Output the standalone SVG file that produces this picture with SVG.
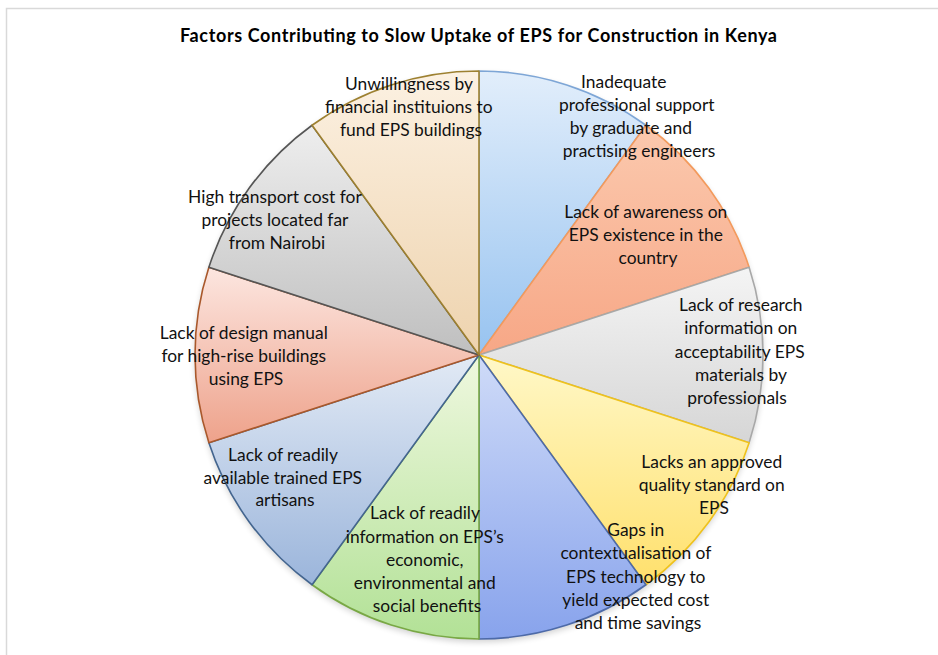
<svg xmlns="http://www.w3.org/2000/svg" width="938" height="655" viewBox="0 0 938 655">
  <style>
    .title { font-family: Lato, "Liberation Sans", sans-serif; font-weight: bold; font-size: 18px; fill: #000; }
    .lbl { font-family: Lato, "Liberation Sans", sans-serif; font-size: 17.4px; fill: #111; text-anchor: middle; }
    .slice { stroke-width: 1.6; stroke-linejoin: round; }
  </style>
  <defs>
    <linearGradient id="gBlue" x1="0" y1="0" x2="0" y2="1">
      <stop offset="0" stop-color="#e2eefb"/><stop offset="1" stop-color="#97c3f0"/>
    </linearGradient>
    <linearGradient id="gOrange" x1="0" y1="0" x2="0" y2="1">
      <stop offset="0" stop-color="#fbc9ae"/><stop offset="1" stop-color="#f7a786"/>
    </linearGradient>
    <linearGradient id="gGrey" x1="0" y1="0" x2="0" y2="1">
      <stop offset="0" stop-color="#f4f4f4"/><stop offset="1" stop-color="#d6d6d6"/>
    </linearGradient>
    <linearGradient id="gYellow" x1="0" y1="0" x2="0" y2="1">
      <stop offset="0" stop-color="#fff8c8"/><stop offset="1" stop-color="#ffe06c"/>
    </linearGradient>
    <linearGradient id="gPeri" x1="0" y1="0" x2="0" y2="1">
      <stop offset="0" stop-color="#cfdbf8"/><stop offset="1" stop-color="#88a3ec"/>
    </linearGradient>
    <linearGradient id="gGreen" x1="0" y1="0" x2="0" y2="1">
      <stop offset="0" stop-color="#eff8df"/><stop offset="1" stop-color="#b2e196"/>
    </linearGradient>
    <linearGradient id="gSteel" x1="0" y1="0" x2="0" y2="1">
      <stop offset="0" stop-color="#e2eaf5"/><stop offset="1" stop-color="#9bb5db"/>
    </linearGradient>
    <linearGradient id="gPink" x1="0" y1="0" x2="0" y2="1">
      <stop offset="0" stop-color="#fce6e0"/><stop offset="1" stop-color="#eea28b"/>
    </linearGradient>
    <linearGradient id="gDark" x1="0" y1="0" x2="0" y2="1">
      <stop offset="0" stop-color="#eeeeee"/><stop offset="1" stop-color="#bfbfbf"/>
    </linearGradient>
    <linearGradient id="gBeige" x1="0" y1="0" x2="0" y2="1">
      <stop offset="0" stop-color="#fcf1e2"/><stop offset="1" stop-color="#eed3ae"/>
    </linearGradient>
    <filter id="shadow" x="-10%" y="-10%" width="120%" height="120%">
      <feGaussianBlur stdDeviation="3"/>
    </filter>
  </defs>

  <!-- chart frame -->
  <rect x="0" y="0" width="938" height="655" fill="#fff"/>
  <path d="M6.5,655 V8.5 H938" fill="none" stroke="#d9d9d9" stroke-width="1.5"/>

  <text class="title" x="180" y="42" textLength="597" lengthAdjust="spacing">Factors Contributing to Slow Uptake of EPS for Construction in Kenya</text>

  <!-- soft shadow under the pie -->
  <circle cx="479" cy="358" r="284" fill="#000" opacity="0.18" filter="url(#shadow)"/>

  <!-- pie slices: centre (479,355), radius 284, ten equal 36° wedges clockwise from the top -->
  <g id="slice-inadequate-support">
    <path class="slice" d="M479,355 L479,71 A284,284 0 0 1 645.93,125.24 Z" fill="url(#gBlue)" stroke="#7ea6d6"/>
  </g>
  <g id="slice-awareness">
    <path class="slice" d="M479,355 L645.93,125.24 A284,284 0 0 1 749.11,267.24 Z" fill="url(#gOrange)" stroke="#f39a5c"/>
  </g>
  <g id="slice-research">
    <path class="slice" d="M479,355 L749.11,267.24 A284,284 0 0 1 749.11,442.76 Z" fill="url(#gGrey)" stroke="#a8a8a8"/>
  </g>
  <g id="slice-quality-standard">
    <path class="slice" d="M479,355 L749.11,442.76 A284,284 0 0 1 645.93,584.76 Z" fill="url(#gYellow)" stroke="#efc21c"/>
  </g>
  <g id="slice-contextualisation">
    <path class="slice" d="M479,355 L645.93,584.76 A284,284 0 0 1 479,639 Z" fill="url(#gPeri)" stroke="#4d6aa8"/>
  </g>
  <g id="slice-benefits-info">
    <path class="slice" d="M479,355 L479,639 A284,284 0 0 1 312.07,584.76 Z" fill="url(#gGreen)" stroke="#79a845"/>
  </g>
  <g id="slice-artisans">
    <path class="slice" d="M479,355 L312.07,584.76 A284,284 0 0 1 208.89,442.76 Z" fill="url(#gSteel)" stroke="#43658f"/>
  </g>
  <g id="slice-design-manual">
    <path class="slice" d="M479,355 L208.89,442.76 A284,284 0 0 1 208.89,267.24 Z" fill="url(#gPink)" stroke="#a9582b"/>
  </g>
  <g id="slice-transport">
    <path class="slice" d="M479,355 L208.89,267.24 A284,284 0 0 1 312.07,125.24 Z" fill="url(#gDark)" stroke="#555555"/>
  </g>
  <g id="slice-financing">
    <path class="slice" d="M479,355 L312.07,125.24 A284,284 0 0 1 479,71 Z" fill="url(#gBeige)" stroke="#9d8030"/>
  </g>

  <!-- data labels -->
  <g id="labels">
    <text class="lbl" x="638" y="88">
      <tspan x="626" y="88">Inadequate</tspan>
      <tspan x="639" y="111">professional support</tspan>
      <tspan x="633" y="134">by graduate and</tspan>
      <tspan x="639" y="157">practising engineers</tspan>
    </text>
    <text class="lbl" x="648" y="218">
      <tspan x="648" y="218">Lack of awareness on</tspan>
      <tspan x="648" y="241">EPS existence in the</tspan>
      <tspan x="648" y="264">country</tspan>
    </text>
    <text class="lbl" x="743" y="311">
      <tspan x="743" y="311">Lack of research</tspan>
      <tspan x="743" y="334">information on</tspan>
      <tspan x="742" y="358">acceptability EPS</tspan>
      <tspan x="743" y="381">materials by</tspan>
      <tspan x="737" y="404">professionals</tspan>
    </text>
    <text class="lbl" x="714" y="468">
      <tspan x="714" y="468">Lacks an approved</tspan>
      <tspan x="714" y="491">quality standard on</tspan>
      <tspan x="714" y="514">EPS</tspan>
    </text>
    <text class="lbl" x="638" y="536">
      <tspan x="638" y="536">Gaps in</tspan>
      <tspan x="638" y="559">contextualisation of</tspan>
      <tspan x="638" y="583">EPS technology to</tspan>
      <tspan x="638" y="606">yield expected cost</tspan>
      <tspan x="638" y="629">and time savings</tspan>
    </text>
    <text class="lbl" x="427" y="519">
      <tspan x="427" y="519">Lack of readily</tspan>
      <tspan x="427" y="543">information on EPS’s</tspan>
      <tspan x="427" y="566">economic,</tspan>
      <tspan x="427" y="589">environmental and</tspan>
      <tspan x="427" y="612">social benefits</tspan>
    </text>
    <text class="lbl" x="285" y="461">
      <tspan x="285" y="461">Lack of readily</tspan>
      <tspan x="285" y="484">available trained EPS</tspan>
      <tspan x="285" y="506">artisans</tspan>
    </text>
    <text class="lbl" x="246" y="339">
      <tspan x="246" y="339">Lack of design manual</tspan>
      <tspan x="246" y="362">for high-rise buildings</tspan>
      <tspan x="246" y="385">using EPS</tspan>
    </text>
    <text class="lbl" x="277" y="203">
      <tspan x="277" y="203">High transport cost for</tspan>
      <tspan x="277" y="226">projects located far</tspan>
      <tspan x="277" y="249">from Nairobi</tspan>
    </text>
    <text class="lbl" x="411" y="90">
      <tspan x="411" y="90">Unwillingness by</tspan>
      <tspan x="411" y="113">financial instituions to</tspan>
      <tspan x="411" y="136">fund EPS buildings</tspan>
    </text>
  </g>
</svg>
